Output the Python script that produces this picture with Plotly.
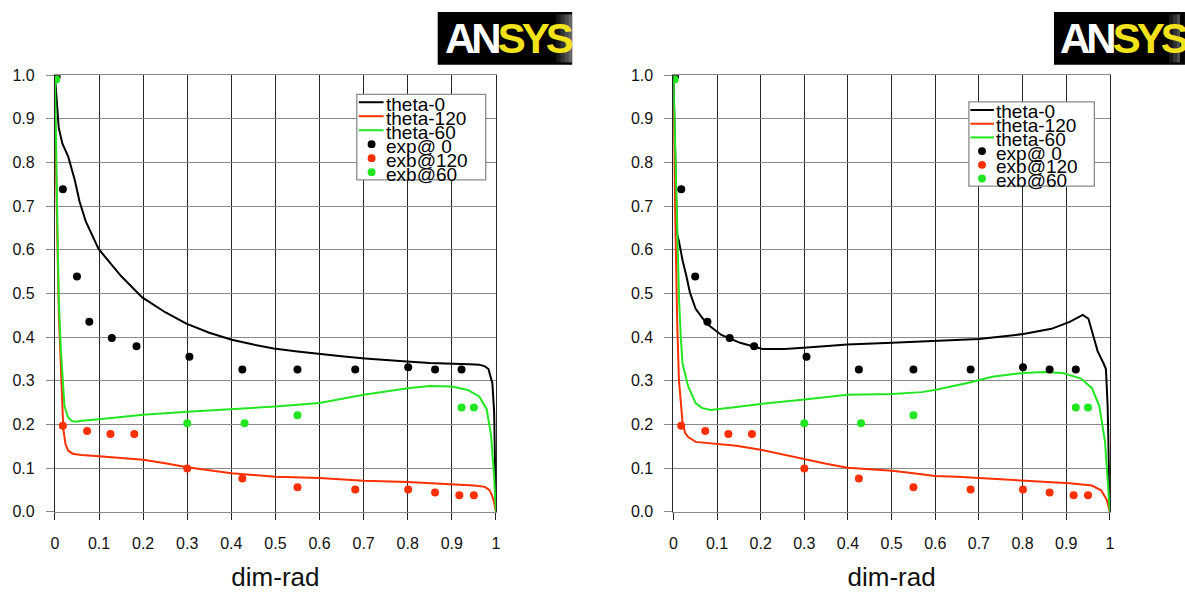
import plotly.graph_objects as go

W, H = 1185, 597

# ---------------- data ----------------
x_ticks = [0, 0.1, 0.2, 0.3, 0.4, 0.5, 0.6, 0.7, 0.8, 0.9, 1.0]
x_tick_text = ["0", "0.1", "0.2", "0.3", "0.4", "0.5", "0.6", "0.7", "0.8", "0.9", "1"]
y_ticks = [0, 0.1, 0.2, 0.3, 0.4, 0.5, 0.6, 0.7, 0.8, 0.9, 1.0]
y_tick_text = ["0.0", "0.1", "0.2", "0.3", "0.4", "0.5", "0.6", "0.7", "0.8", "0.9", "1.0"]

# left panel simulation curves
L_theta0_x = [0, 0.004, 0.0086, 0.017, 0.03, 0.045, 0.056, 0.07, 0.099, 0.15, 0.198, 0.25, 0.298, 0.35,
              0.401, 0.45, 0.496, 0.55, 0.599, 0.65, 0.703, 0.75, 0.798, 0.85, 0.9, 0.94, 0.962, 0.975,
              0.983, 0.988, 0.992, 0.996, 0.998, 1.0]
L_theta0_y = [1.0, 0.95, 0.88, 0.843, 0.814, 0.76, 0.71, 0.665, 0.602, 0.54, 0.491, 0.457, 0.431, 0.41,
              0.394, 0.383, 0.374, 0.367, 0.361, 0.356, 0.351, 0.347, 0.344, 0.341, 0.34, 0.338, 0.337, 0.333,
              0.327, 0.31, 0.294, 0.227, 0.12, 0.0]
L_theta120_x = [0, 0.003, 0.006, 0.009, 0.012, 0.015, 0.019, 0.024, 0.03, 0.04, 0.06, 0.1, 0.15, 0.2, 0.25,
                0.3, 0.35, 0.4, 0.45, 0.5, 0.6, 0.7, 0.8, 0.9, 0.95, 0.975, 0.985, 0.99, 0.995, 1.0]
L_theta120_y = [0.93, 0.8, 0.6, 0.45, 0.36, 0.27, 0.19, 0.155, 0.14, 0.133, 0.13, 0.127, 0.123, 0.119, 0.111,
                0.102, 0.095, 0.088, 0.084, 0.080, 0.077, 0.071, 0.068, 0.063, 0.06, 0.057, 0.05, 0.04, 0.025, 0.0]
L_theta60_x = [0, 0.004, 0.0086, 0.013, 0.017, 0.0216, 0.03, 0.038, 0.047, 0.056, 0.1, 0.2, 0.3, 0.4, 0.5,
               0.6, 0.66, 0.7, 0.8, 0.85, 0.9, 0.936, 0.962, 0.979, 0.989, 0.996, 1.0]
L_theta60_y = [1.0, 0.8, 0.49, 0.38, 0.3, 0.242, 0.216, 0.208, 0.206, 0.208, 0.212, 0.222, 0.229, 0.235, 0.241,
               0.249, 0.261, 0.268, 0.283, 0.288, 0.287, 0.279, 0.264, 0.235, 0.175, 0.079, 0.0]

# right panel simulation curves
R_theta0_x = [0, 0.003, 0.006, 0.0085, 0.0127, 0.021, 0.03, 0.038, 0.051, 0.076, 0.11, 0.153, 0.204, 0.255,
              0.306, 0.399, 0.501, 0.599, 0.70, 0.802, 0.866, 0.908, 0.938, 0.951, 0.963, 0.972, 0.986,
              0.991, 0.995, 0.998, 1.0]
R_theta0_y = [1.0, 0.85, 0.7, 0.636, 0.62, 0.576, 0.539, 0.502, 0.465, 0.431, 0.405, 0.387, 0.373, 0.373,
              0.376, 0.383, 0.387, 0.391, 0.396, 0.407, 0.419, 0.435, 0.451, 0.442, 0.398, 0.368, 0.339,
              0.327, 0.242, 0.12, 0.0]
R_theta120_x = [0, 0.003, 0.006, 0.0085, 0.0127, 0.017, 0.021, 0.027, 0.034, 0.051, 0.085, 0.144, 0.20, 0.25,
                0.301, 0.35, 0.399, 0.45, 0.501, 0.55, 0.599, 0.65, 0.70, 0.75, 0.802, 0.908, 0.959, 0.98,
                0.993, 1.0]
R_theta120_y = [0.93, 0.75, 0.55, 0.443, 0.302, 0.24, 0.205, 0.18, 0.171, 0.160, 0.157, 0.151, 0.142, 0.131,
                0.12, 0.11, 0.101, 0.097, 0.094, 0.088, 0.082, 0.08, 0.077, 0.073, 0.07, 0.065, 0.06, 0.049,
                0.027, 0.0]
R_theta60_x = [0, 0.005, 0.01, 0.013, 0.017, 0.021, 0.034, 0.051, 0.065, 0.076, 0.085, 0.144, 0.20, 0.301,
               0.399, 0.501, 0.569, 0.599, 0.679, 0.73, 0.802, 0.849, 0.892, 0.934, 0.959, 0.976, 0.989,
               0.997, 1.0]
R_theta60_y = [1.0, 0.8, 0.6, 0.487, 0.4, 0.339, 0.287, 0.249, 0.238, 0.235, 0.233, 0.24, 0.247, 0.257,
               0.268, 0.270, 0.274, 0.279, 0.296, 0.309, 0.318, 0.32, 0.318, 0.305, 0.283, 0.242, 0.16,
               0.042, 0.0]

# experimental points (same in both panels)
exp0_x = [0.004, 0.018, 0.05, 0.078, 0.129, 0.185, 0.305, 0.425, 0.55, 0.681, 0.801, 0.862, 0.922]
exp0_y = [0.997, 0.739, 0.539, 0.435, 0.398, 0.379, 0.355, 0.326, 0.326, 0.326, 0.331, 0.326, 0.326]
exp120_x = [0.018, 0.073, 0.126, 0.180, 0.300, 0.425, 0.550, 0.681, 0.801, 0.862, 0.917, 0.950]
exp120_y = [0.197, 0.185, 0.178, 0.178, 0.099, 0.076, 0.056, 0.051, 0.051, 0.044, 0.038, 0.038]
exp60_x = [0.003, 0.300, 0.430, 0.550, 0.922, 0.950]
exp60_y = [0.99, 0.203, 0.203, 0.221, 0.239, 0.239]

legend_labels = ["theta-0", "theta-120", "theta-60", "exp@ 0", "exb@120", "exb@60"]

# ---------------- style ----------------
BLACK = "#000000"
RED = "#ff3000"
GREEN = "#22e622"
colors = [BLACK, RED, GREEN]
FONT = "Liberation Sans, Arial, sans-serif"
DARK = "#262626"
GREY = "#8a8a8a"


def px(x):
    return x / W


def py(y):
    return 1 - y / H


fig = go.Figure()

panels = [
    ("x", "y", [(L_theta0_x, L_theta0_y), (L_theta120_x, L_theta120_y), (L_theta60_x, L_theta60_y)]),
    ("x2", "y2", [(R_theta0_x, R_theta0_y), (R_theta120_x, R_theta120_y), (R_theta60_x, R_theta60_y)]),
]
exps = [(exp0_x, exp0_y), (exp120_x, exp120_y), (exp60_x, exp60_y)]

for xa, ya, curves in panels:
    for (cx, cy), c, name in zip(curves, colors, legend_labels[:3]):
        fig.add_trace(go.Scatter(x=cx, y=cy, mode="lines", line=dict(color=c, width=2),
                                 name=name, xaxis=xa, yaxis=ya, showlegend=False))
    for (ex, ey), c, name in zip(exps, colors, legend_labels[3:]):
        fig.add_trace(go.Scatter(x=ex, y=ey, mode="markers", marker=dict(color=c, size=8),
                                 name=name, xaxis=xa, yaxis=ya, showlegend=False))

ydom = [py(518.5), py(69.2)]
xdom_L = [px(51.3), px(495.7)]
xdom_R = [px(674.5), px(1114.3)]

common_x = dict(range=[0, 1], tickmode="array", tickvals=x_ticks, ticktext=x_tick_text,
                showgrid=True, gridcolor=DARK, gridwidth=1, zeroline=False,
                showline=True, linecolor=GREY, linewidth=1, mirror=True,
                ticks="outside", ticklen=7, tickcolor=DARK, ticklabelstandoff=10,
                tickfont=dict(family=FONT, size=16, color="#111"),
                title=dict(text="dim-rad", font=dict(family=FONT, size=26, color="#111"), standoff=16))
common_y = dict(range=[0, 1], tickmode="array", tickvals=y_ticks, ticktext=y_tick_text,
                showgrid=True, gridcolor=GREY, gridwidth=1, zeroline=False,
                showline=True, linecolor=DARK, linewidth=1, mirror=True,
                ticks="outside", ticklen=8, tickcolor=GREY, ticklabelstandoff=8,
                tickfont=dict(family=FONT, size=16, color="#111"))

fig.update_layout(
    width=W, height=H, autosize=False,
    margin=dict(l=0, r=0, t=0, b=0),
    paper_bgcolor="white", plot_bgcolor="white",
    showlegend=False,
    xaxis=dict(domain=xdom_L, anchor="y", **common_x),
    yaxis=dict(domain=ydom, anchor="x", **common_y),
    xaxis2=dict(domain=xdom_R, anchor="y2", **common_x),
    yaxis2=dict(domain=ydom, anchor="x2", **common_y),
)

shapes = []
annotations = []

# manual legends (decoration)
legend_boxes = [
    dict(x0=355.5, x1=485.4, y0=89.0, y1=177.0, line_x0=357.5, line_x1=382.5, dot_x=370.4,
         text_x=383.0, row0=97.0, step=14.4),
    dict(x0=972.3, x1=1098.7, y0=96.7, y1=183.3, line_x0=973.8, line_x1=997.5, dot_x=985.5,
         text_x=998.0, row0=105.0, step=14.1),
]
for lb in legend_boxes:
    shapes.append(dict(type="rect", xref="paper", yref="paper",
                       x0=px(lb["x0"]), x1=px(lb["x1"]), y0=py(lb["y1"]), y1=py(lb["y0"]),
                       line=dict(color=GREY, width=1.3), fillcolor="white", layer="above"))
    for i, lab in enumerate(legend_labels):
        ry = lb["row0"] + i * lb["step"]
        c = colors[i % 3]
        if i < 3:
            shapes.append(dict(type="line", xref="paper", yref="paper",
                               x0=px(lb["line_x0"]), x1=px(lb["line_x1"]), y0=py(ry), y1=py(ry),
                               line=dict(color=c, width=2), layer="above"))
        else:
            r = 4
            shapes.append(dict(type="circle", xref="paper", yref="paper",
                               x0=px(lb["dot_x"] - r), x1=px(lb["dot_x"] + r),
                               y0=py(ry + r), y1=py(ry - r),
                               line=dict(color=c, width=0), fillcolor=c, layer="above"))
        annotations.append(dict(xref="paper", yref="paper", x=px(lb["text_x"]), y=py(ry + 2),
                                xanchor="left", yanchor="middle", showarrow=False, text=lab,
                                font=dict(family=FONT, size=19, color="#000")))

# ANSYS logos (decoration)
logos = [(437.0, 572.5, 442.0), (1058.0, 1190.0, 1062.0)]
for lx0, lx1, tx in logos:
    shapes.append(dict(type="rect", xref="paper", yref="paper",
                       x0=px(lx0), x1=px(lx1), y0=py(58.5), y1=py(4.0),
                       line=dict(width=0), fillcolor="#000000", layer="above"))
    for k, g in enumerate(["#1a1a1a", "#333333", "#4d4d4d", "#666666"]):
        gx0 = lx1 - 16 + k * 4
        if gx0 < W:
            shapes.append(dict(type="rect", xref="paper", yref="paper",
                               x0=px(gx0), x1=px(min(gx0 + 4, W)), y0=py(56.0), y1=py(6.5),
                               line=dict(width=0), fillcolor=g, layer="above"))
    annotations.append(dict(xref="paper", yref="paper", x=px(tx), y=py(31.5),
                            xanchor="left", yanchor="middle", showarrow=False,
                            text=("<b><span style='color:#ffffff;letter-spacing:-4px'>AN</span>"
                                  "<span style='color:#f2e21a;letter-spacing:-4px'>SYS</span></b>"),
                            font=dict(family=FONT, size=42, color="#ffffff")))

fig.update_layout(shapes=shapes, annotations=annotations)

fig.write_html("out.html")
